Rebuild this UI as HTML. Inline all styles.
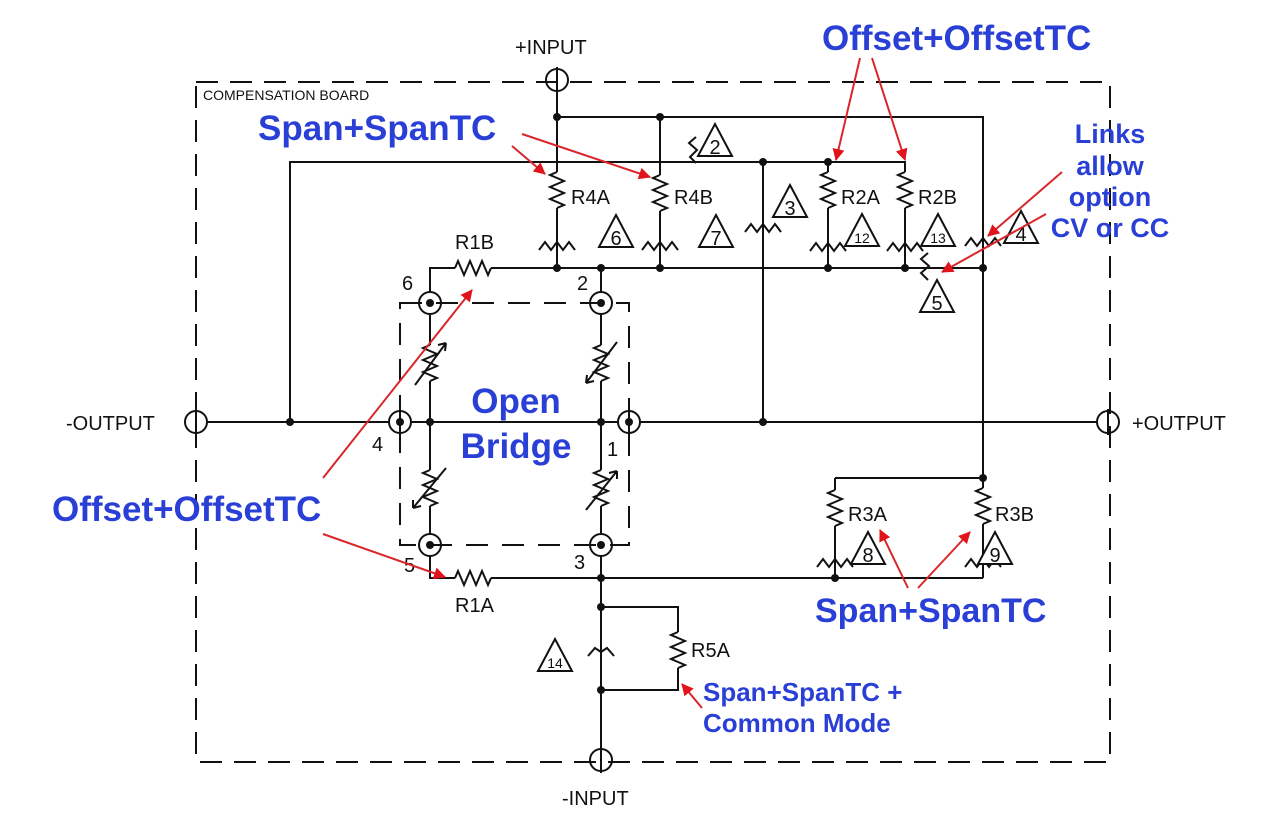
<!DOCTYPE html>
<html><head><meta charset="utf-8"><style>
html,body{margin:0;padding:0;background:#fff;}
svg{display:block;}
.w{stroke:#111;stroke-width:2;fill:none;}
.t{font-family:"Liberation Sans",sans-serif;fill:#111;}
.b{font-family:"Liberation Sans",sans-serif;font-weight:bold;fill:#2a3fd6;}
.r{stroke:#d8262a;stroke-width:2;fill:none;}
</style></head><body>
<svg width="1280" height="816" viewBox="0 0 1280 816" xmlns="http://www.w3.org/2000/svg">
<defs>
<path id="rv" d="M0,0 L-7,3 L7,9 L-7,15 L7,21 L-7,27 L7,33 L0,36" class="w"/>
<path id="rh" d="M0,0 L3,-7 L9,7 L15,-7 L21,7 L27,-7 L33,7 L36,0" class="w"/>
<path id="pot" d="M-18,6 L-12,-2 L-6,6 L0,-2 L6,6 L12,-2 L18,6" class="w"/>
<polygon id="tri" points="0,-18 17,14 -17,14" fill="#fff" stroke="#111" stroke-width="2"/>
<marker id="ah" markerWidth="12" markerHeight="12" refX="11" refY="6" orient="auto" markerUnits="userSpaceOnUse"><path d="M0,0 L12,6 L0,12 z" fill="#e0141a"/></marker>
</defs>
<rect width="1280" height="816" fill="#fff"/>
<rect x="196" y="82" width="914" height="680" fill="none" stroke="#111" stroke-width="2" stroke-dasharray="22,12"/>
<text x="203" y="100" class="t" font-size="14">COMPENSATION BOARD</text>
<rect x="400" y="303" width="229" height="242" fill="none" stroke="#111" stroke-width="2" stroke-dasharray="22,14"/>

<path class="w" d="M557,91 V172 M557,208 V268 M557,117 H983 V488 M983,524 V578
M660,117 V175 M660,211 V268
M290,422 V162 H905 V172 M828,162 V172 M828,208 V268 M905,208 V268
M763,162 V422
M430,292 V268 H455 M491,268 H983
M430,314 V345 M430,381 V470 M430,506 V534 M430,556 V578 H455 M491,578 H983
M601,268 V292 M601,314 V345 M601,381 V470 M601,506 V534 M601,556 V749
M207,422 H389 M411,422 H618 M640,422 H1097
M835,478 H983 M835,478 V490 M835,526 V578
M601,607 H678 V632 M678,668 V690 H601"/>
<use href="#rv" x="557" y="172"/><use href="#rv" x="660" y="175"/>
<use href="#rv" x="828" y="172"/><use href="#rv" x="905" y="172"/>
<use href="#rv" x="835" y="490"/><use href="#rv" x="983" y="488"/>
<use href="#rv" x="678" y="632"/>
<use href="#rh" x="455" y="268"/><use href="#rh" x="455" y="578"/>
<use href="#rv" x="430" y="345"/><use href="#rv" x="601" y="345"/>
<use href="#rv" x="430" y="470"/><use href="#rv" x="601" y="470"/>
<path class="w" d="M415,385 L446,343 M446,343 l-8,2 M446,343 l-1,8"/>
<path class="w" d="M617,342 L586,383 M586,383 l8,-2 M586,383 l1,-8"/>
<path class="w" d="M446,468 L413,508 M413,508 l8,-2 M413,508 l0,-8"/>
<path class="w" d="M586,510 L617,471 M617,471 l-8,2 M617,471 l0,8"/>
<use href="#pot" x="557" y="244"/><use href="#pot" x="660" y="244"/>
<use href="#pot" x="763" y="226"/><use href="#pot" x="828" y="245"/>
<use href="#pot" x="905" y="245"/><use href="#pot" x="983" y="240"/>
<use href="#pot" x="835" y="561"/><use href="#pot" x="983" y="561"/>
<path class="w" d="M588,656 L595,648 L601,652 L607,648 L614,656"/>
<path class="w" d="M696,137 L689,143 L697,150 L690,157 L696,163"/>
<path class="w" d="M928,253 L921,259 L929,266 L921,273 L928,280"/>
<g fill="#111">
<circle cx="557" cy="117" r="4"/><circle cx="660" cy="117" r="4"/>
<circle cx="763" cy="162" r="4"/><circle cx="828" cy="162" r="4"/>
<circle cx="557" cy="268" r="4"/><circle cx="601" cy="268" r="4"/><circle cx="660" cy="268" r="4"/>
<circle cx="828" cy="268" r="4"/><circle cx="905" cy="268" r="4"/><circle cx="983" cy="268" r="4"/>
<circle cx="290" cy="422" r="4"/><circle cx="430" cy="422" r="4"/><circle cx="601" cy="422" r="4"/><circle cx="763" cy="422" r="4"/>
<circle cx="983" cy="478" r="4"/><circle cx="601" cy="578" r="4"/><circle cx="835" cy="578" r="4"/>
<circle cx="601" cy="607" r="4"/><circle cx="601" cy="690" r="4"/>
<circle cx="430" cy="303" r="4"/><circle cx="601" cy="303" r="4"/><circle cx="400" cy="422" r="4"/>
<circle cx="629" cy="422" r="4"/><circle cx="430" cy="545" r="4"/><circle cx="601" cy="545" r="4"/>
</g>
<g fill="none" stroke="#111" stroke-width="2">
<circle cx="430" cy="303" r="11"/><circle cx="601" cy="303" r="11"/><circle cx="400" cy="422" r="11"/>
<circle cx="629" cy="422" r="11"/><circle cx="430" cy="545" r="11"/><circle cx="601" cy="545" r="11"/>
<path d="M400,408 V436 M629,408 V436"/>
<circle cx="557" cy="80" r="11"/><path d="M557,67 V93"/>
<circle cx="196" cy="422" r="11"/><path d="M196,409 V435"/>
<circle cx="1108" cy="422" r="11"/><path d="M1108,409 V435"/>
<circle cx="601" cy="760" r="11"/><path d="M601,747 V773"/>
</g>
<g class="t" font-size="20" text-anchor="middle">
<use href="#tri" x="715" y="142"/><text x="715" y="154">2</text>
<use href="#tri" x="616" y="233"/><text x="616" y="245">6</text>
<use href="#tri" x="716" y="233"/><text x="716" y="245">7</text>
<use href="#tri" x="790" y="203"/><text x="790" y="215">3</text>
<use href="#tri" x="862" y="232"/><text x="862" y="243" font-size="14">12</text>
<use href="#tri" x="938" y="232"/><text x="938" y="243" font-size="14">13</text>
<use href="#tri" x="1021" y="229"/><text x="1021" y="241">4</text>
<use href="#tri" x="937" y="298"/><text x="937" y="310">5</text>
<use href="#tri" x="868" y="550"/><text x="868" y="562">8</text>
<use href="#tri" x="995" y="550"/><text x="995" y="562">9</text>
<use href="#tri" x="555" y="657"/><text x="555" y="668" font-size="14">14</text>
</g>
<g class="t" font-size="20">
<text x="515" y="54">+INPUT</text>
<text x="562" y="805">-INPUT</text>
<text x="66" y="430">-OUTPUT</text>
<text x="1132" y="430">+OUTPUT</text>
<text x="571" y="204">R4A</text><text x="674" y="204">R4B</text>
<text x="841" y="204">R2A</text><text x="918" y="204">R2B</text>
<text x="455" y="249">R1B</text><text x="455" y="612">R1A</text>
<text x="848" y="521">R3A</text><text x="995" y="521">R3B</text>
<text x="691" y="657">R5A</text>
<text x="402" y="290">6</text><text x="577" y="290">2</text>
<text x="372" y="451">4</text><text x="607" y="456">1</text>
<text x="404" y="572">5</text><text x="574" y="569">3</text>
</g>
<g class="b">
<text x="822" y="50" font-size="35">Offset+OffsetTC</text>
<text x="258" y="140" font-size="35">Span+SpanTC</text>
<text x="1110" y="143" font-size="27" text-anchor="middle">Links</text>
<text x="1110" y="175" font-size="27" text-anchor="middle">allow</text>
<text x="1110" y="206" font-size="27" text-anchor="middle">option</text>
<text x="1110" y="237" font-size="27" text-anchor="middle">CV or CC</text>
<text x="516" y="413" font-size="35" text-anchor="middle">Open</text>
<text x="516" y="458" font-size="35" text-anchor="middle">Bridge</text>
<text x="52" y="521" font-size="35">Offset+OffsetTC</text>
<text x="815" y="622" font-size="34">Span+SpanTC</text>
<text x="703" y="701" font-size="26">Span+SpanTC +</text>
<text x="703" y="732" font-size="26">Common Mode</text>
</g>
<g class="r" marker-end="url(#ah)">
<line x1="860" y1="58" x2="836" y2="160"/>
<line x1="872" y1="58" x2="905" y2="160"/>
<line x1="512" y1="146" x2="545" y2="174"/>
<line x1="522" y1="134" x2="650" y2="177"/>
<line x1="1062" y1="172" x2="988" y2="236"/>
<line x1="1046" y1="214" x2="942" y2="272"/>
<line x1="323" y1="478" x2="472" y2="290"/>
<line x1="323" y1="534" x2="445" y2="577"/>
<line x1="908" y1="588" x2="880" y2="530"/>
<line x1="918" y1="588" x2="970" y2="532"/>
<line x1="702" y1="708" x2="682" y2="684"/>
</g>
</svg>
</body></html>
